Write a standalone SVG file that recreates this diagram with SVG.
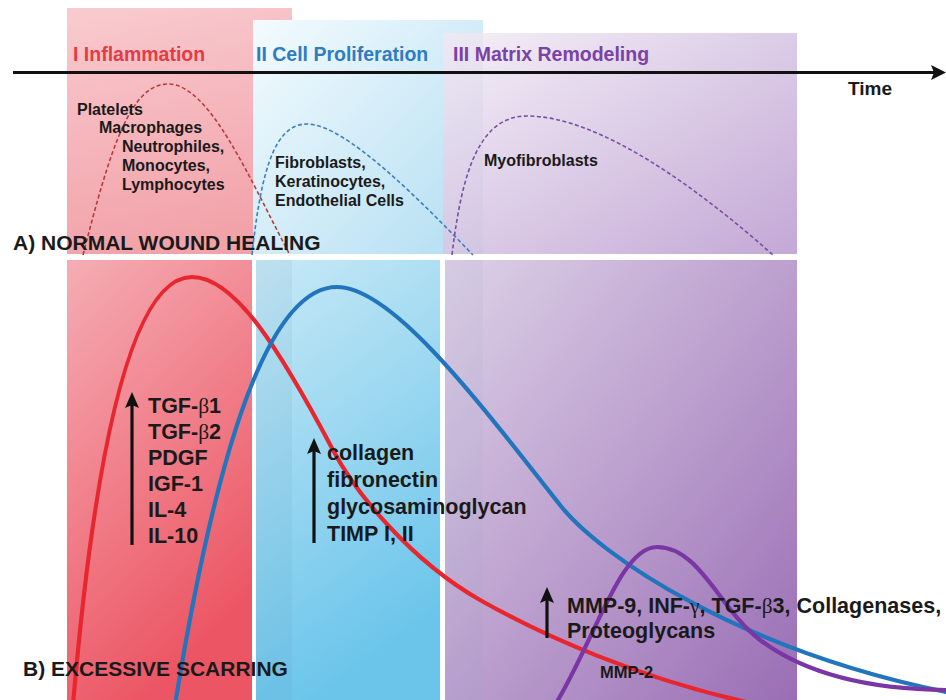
<svg xmlns="http://www.w3.org/2000/svg" width="946" height="700" viewBox="0 0 946 700">
<defs>
<linearGradient id="gRedTop" x1="0" y1="0" x2="0.2" y2="1"><stop offset="0" stop-color="#f8cbcf"/><stop offset="1" stop-color="#f2a3aa"/></linearGradient>
<linearGradient id="gBlueTop" x1="0" y1="0" x2="1" y2="1"><stop offset="0" stop-color="#f4fbfe"/><stop offset="1" stop-color="#b2def2"/></linearGradient>
<linearGradient id="gPurTop" x1="0" y1="0" x2="1" y2="1"><stop offset="0" stop-color="#f5f0f8"/><stop offset="1" stop-color="#c3a8d5"/></linearGradient>
<linearGradient id="gRedBot" x1="0" y1="0" x2="0.4" y2="1"><stop offset="0" stop-color="#f5adb4"/><stop offset="1" stop-color="#ec5664"/></linearGradient>
<linearGradient id="gBlueBot" x1="0" y1="0" x2="0.3" y2="1"><stop offset="0" stop-color="#c8e9f6"/><stop offset="1" stop-color="#6bc5eb"/></linearGradient>
<linearGradient id="gPurBot" x1="0" y1="0" x2="1" y2="1"><stop offset="0" stop-color="#ddd1e7"/><stop offset="1" stop-color="#9a6eb5"/></linearGradient>
<path id="head" d="M0,0 L7,16 L0,13 L-7,16 Z" fill="#111"/>
</defs>
<style>
.lbl{font-family:"Liberation Sans",Arial,sans-serif;font-weight:bold;fill:#1a1a1a}
.s16{font-size:16px}
.s21{font-size:21.5px}
.hdr{font-family:"Liberation Sans",Arial,sans-serif;font-weight:bold;font-size:19.5px}
.gk{font-family:"Liberation Serif","DejaVu Serif",serif;font-weight:normal}
.dash{fill:none;stroke-width:1.6;stroke-dasharray:4 2.5}
.solid{fill:none;stroke-width:4.2;stroke-linecap:round}
.arr{stroke:#111;stroke-width:3.2;fill:none}
</style>
<rect width="946" height="700" fill="#ffffff"/>

<g id="panelA">
<rect x="67" y="8" width="225" height="246" fill="url(#gRedTop)"/>
<rect x="253" y="20" width="230" height="234" fill="url(#gBlueTop)"/>
<rect x="443" y="33" width="354" height="221" fill="url(#gPurTop)"/>
<rect x="443" y="33" width="40" height="221" fill="#8fa6c8" opacity="0.08"/>
</g>

<g id="panelB">
<rect x="67" y="260" width="185" height="440" fill="url(#gRedBot)"/>
<rect x="256" y="260" width="184" height="440" fill="url(#gBlueBot)"/>
<rect x="256" y="260" width="36" height="440" fill="#3a6f9a" opacity="0.07"/>
<rect x="445" y="260" width="352" height="440" fill="url(#gPurBot)"/>
<rect x="445" y="260" width="38" height="440" fill="#8fa6c8" opacity="0.1"/>
</g>

<g id="connectors">
<path class="dash" stroke="#b8393f" d="M83,255 C110,150 130,84 168,84 C210,84 250,180 290,255"/>
<path class="dash" stroke="#3b7fc4" d="M252,255 C262,160 278,124 307,124 C345,124 420,200 473,255"/>
<path class="dash" stroke="#7a4ea3" d="M452,255 C462,170 480,116 527,116 C600,116 700,190 773,255"/>
<path class="solid" stroke="#e8262f" d="M73,705 C93,470 128,277 192,277 C235,277 280,350 333,450 C355,492 410,560 480,600 C540,634 640,680 760,705"/>
<path class="solid" stroke="#2275bd" d="M175,705 C205,520 255,287 337,287 C390,287 470,390 560,505 C600,556 740,650 946,692"/>
<path class="solid" stroke="#7a36a4" d="M555,705 C595,640 620,547 657,547 C700,547 720,610 760,640 C800,670 860,690 950,690"/>
<line x1="13" y1="72.5" x2="934" y2="72.5" stroke="#111" stroke-width="3"/>
<path d="M946,72.5 L931,65 L934,72.5 L931,80 Z" fill="#111"/>
<line class="arr" x1="132" y1="545" x2="132" y2="402"/>
<use href="#head" x="132" y="392"/>
<line class="arr" x1="314" y1="543" x2="314" y2="448"/>
<use href="#head" x="314" y="438"/>
<line class="arr" x1="547" y1="638" x2="547" y2="597"/>
<use href="#head" x="547" y="587"/>
</g>

<g id="headers">
<text class="hdr" x="73" y="61" fill="#e53b47">I Inflammation</text>
<text class="hdr" x="256" y="61" fill="#2f7cc0">II Cell Proliferation</text>
<text class="hdr" x="453" y="61" fill="#7b42a5">III Matrix Remodeling</text>
<text class="lbl" x="848" y="95" font-size="19">Time</text>
</g>

<g id="cellsA">
<text class="lbl s16" x="77" y="115">Platelets</text>
<text class="lbl s16" x="99" y="133">Macrophages</text>
<text class="lbl s16" x="122" y="152">Neutrophiles,</text>
<text class="lbl s16" x="122" y="171">Monocytes,</text>
<text class="lbl s16" x="122" y="190">Lymphocytes</text>
<text class="lbl s16" x="275" y="168">Fibroblasts,</text>
<text class="lbl s16" x="275" y="187">Keratinocytes,</text>
<text class="lbl s16" x="275" y="206">Endothelial Cells</text>
<text class="lbl s16" x="484" y="166">Myofibroblasts</text>
<text class="lbl" x="13" y="250" font-size="21">A) NORMAL WOUND HEALING</text>
</g>

<g id="factorsB">
<text class="lbl s21" x="148" y="413">TGF-<tspan class="gk">β</tspan>1</text>
<text class="lbl s21" x="148" y="439">TGF-<tspan class="gk">β</tspan>2</text>
<text class="lbl s21" x="148" y="465">PDGF</text>
<text class="lbl s21" x="148" y="491">IGF-1</text>
<text class="lbl s21" x="148" y="517">IL-4</text>
<text class="lbl s21" x="148" y="543">IL-10</text>
<text class="lbl s21" x="327" y="460">collagen</text>
<text class="lbl s21" x="327" y="487">fibronectin</text>
<text class="lbl s21" x="327" y="514">glycosaminoglycan</text>
<text class="lbl s21" x="327" y="541">TIMP I, II</text>
<text class="lbl s21" x="567" y="613">MMP-9, INF-<tspan class="gk">γ</tspan>, TGF-<tspan class="gk">β</tspan>3, Collagenases,</text>
<text class="lbl s21" x="567" y="638">Proteoglycans</text>
<text class="lbl" x="600" y="678" font-size="16.5">MMP-2</text>
<text class="lbl" x="23" y="676" font-size="21">B) EXCESSIVE SCARRING</text>
</g>
</svg>
